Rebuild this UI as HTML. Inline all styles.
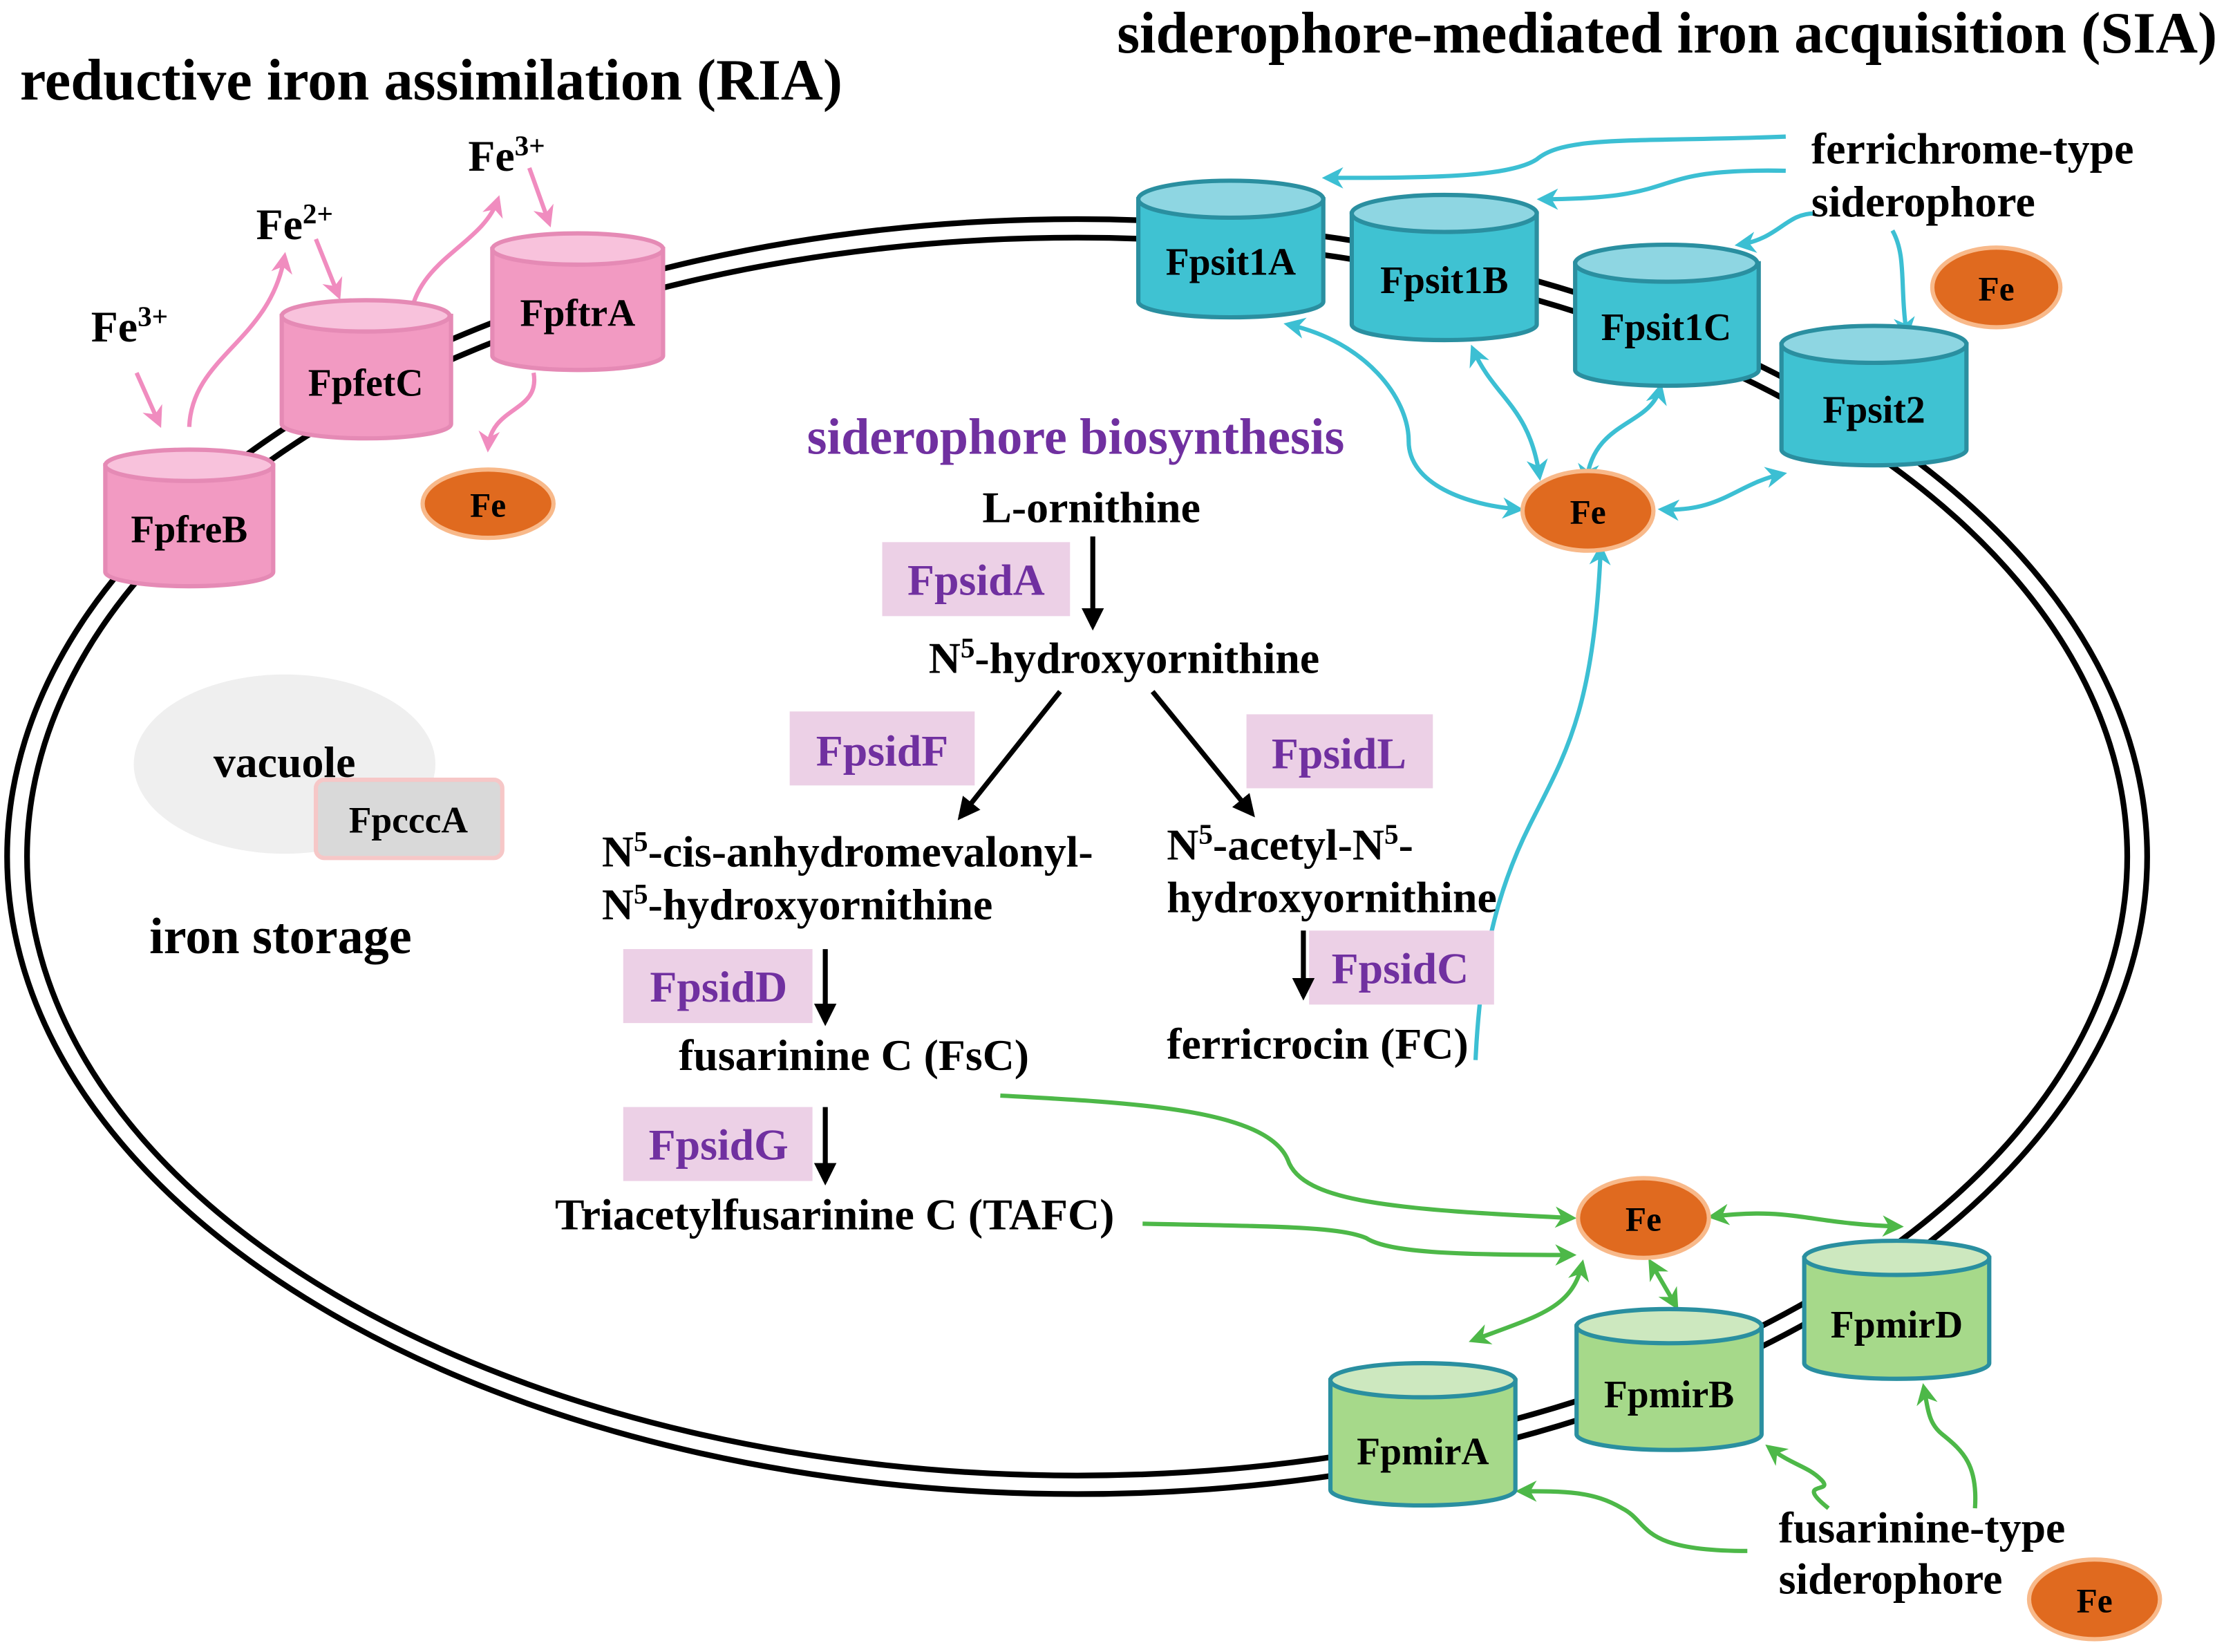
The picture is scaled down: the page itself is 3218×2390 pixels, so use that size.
<!DOCTYPE html>
<html><head><meta charset="utf-8"><style>
html,body{margin:0;padding:0;background:#fff;}
svg{display:block;}
text{font-family:"Liberation Serif",serif;font-weight:bold;}
</style></head><body>
<svg width="3218" height="2390" viewBox="0 0 1563 1161" preserveAspectRatio="none" xmlns="http://www.w3.org/2000/svg">
<defs>
<marker id="ap" viewBox="0 0 10 10" refX="8" refY="5" markerWidth="5" markerHeight="5" orient="auto-start-reverse"><path d="M0,0L10,5L0,10L3,5Z" fill="#f08cbf"/></marker>
<marker id="ac" viewBox="0 0 10 10" refX="8" refY="5" markerWidth="5" markerHeight="5" orient="auto-start-reverse"><path d="M0,0L10,5L0,10L3,5Z" fill="#3cbfd3"/></marker>
<marker id="ag" viewBox="0 0 10 10" refX="8" refY="5" markerWidth="5" markerHeight="5" orient="auto-start-reverse"><path d="M0,0L10,5L0,10L3,5Z" fill="#4db848"/></marker>
<marker id="ab" viewBox="0 0 10 10" refX="8" refY="5" markerWidth="4.5" markerHeight="4.5" orient="auto"><path d="M0,0L10,5L0,10Z" fill="#000"/></marker>
</defs>
<rect width="1563" height="1161" fill="#fff"/>
<ellipse cx="757" cy="602" rx="752" ry="448" fill="none" stroke="#000" stroke-width="4"/>
<ellipse cx="757" cy="602" rx="738" ry="435" fill="none" stroke="#000" stroke-width="4"/>

<text x="14" y="70" font-size="41">reductive iron assimilation (RIA)</text>
<text x="785" y="37" font-size="41">siderophore-mediated iron acquisition (SIA)</text>

<ellipse cx="200" cy="537" rx="106" ry="63" fill="#efefef"/>
<text x="150" y="546" font-size="31">vacuole</text>
<rect x="222" y="548" width="131" height="55" rx="6" fill="#d9d9d9" stroke="#f6c7c7" stroke-width="3"/>
<text x="287" y="585" font-size="26" text-anchor="middle">FpcccA</text>
<text x="105" y="670" font-size="36">iron storage</text>

<g fill="none" stroke="#f08cbf" stroke-width="3">
<path d="M96 262 L112 298" marker-end="url(#ap)"/>
<path d="M133 300 C135 250 190 240 200 180" marker-end="url(#ap)"/>
<path d="M222 168 L238 208" marker-end="url(#ap)"/>
<path d="M290 215 C300 180 340 170 350 140" marker-end="url(#ap)"/>
<path d="M372 118 L386 157" marker-end="url(#ap)"/>
<path d="M375 262 C380 290 345 285 343 315" marker-end="url(#ap)"/>
</g>
<text x="64" y="240" font-size="31">Fe<tspan font-size="20" dy="-11">3+</tspan></text>
<text x="180" y="168" font-size="31">Fe<tspan font-size="20" dy="-11">2+</tspan></text>
<text x="329" y="120" font-size="31">Fe<tspan font-size="20" dy="-11">3+</tspan></text>

<g stroke="#e58ab5" stroke-width="3">
<path d="M74 327 L74 402 A59 10 0 0 0 192 402 L192 327Z" fill="#f29ac2"/>
<ellipse cx="133" cy="327" rx="59" ry="11" fill="#f8c2dc"/>
<path d="M198 222 L198 298 A59 10 0 0 0 317 298 L317 222Z" fill="#f29ac2"/>
<ellipse cx="257" cy="222" rx="59" ry="11" fill="#f8c2dc"/>
<path d="M346 175 L346 250 A60 10 0 0 0 466 250 L466 175Z" fill="#f29ac2"/>
<ellipse cx="406" cy="175" rx="60" ry="11" fill="#f8c2dc"/>
</g>
<text x="133" y="381" font-size="27" text-anchor="middle">FpfreB</text>
<text x="257" y="278" font-size="27" text-anchor="middle">FpfetC</text>
<text x="406" y="229" font-size="27" text-anchor="middle">FpftrA</text>
<ellipse cx="343" cy="354" rx="46" ry="24" fill="#e06a1f" stroke="#f8b98a" stroke-width="3"/>
<text x="343" y="363" font-size="24" text-anchor="middle">Fe</text>

<g fill="none" stroke="#3cbfd3" stroke-width="3">
<path d="M1255 96 C1150 100 1100 95 1080 112 C1060 125 1000 125 932 125" marker-end="url(#ac)"/>
<path d="M1255 120 C1150 118 1190 140 1083 140" marker-end="url(#ac)"/>
<path d="M1275 150 C1255 150 1250 168 1222 172" marker-end="url(#ac)"/>
<path d="M1330 162 C1340 180 1335 200 1340 235" marker-end="url(#ac)"/>
<path d="M905 228 C960 240 990 280 990 310 C990 340 1030 355 1068 358" marker-start="url(#ac)" marker-end="url(#ac)"/>
<path d="M1035 245 C1050 280 1075 285 1082 335" marker-start="url(#ac)" marker-end="url(#ac)"/>
<path d="M1167 272 C1160 300 1120 295 1115 338" marker-start="url(#ac)" marker-end="url(#ac)"/>
<path d="M1253 333 C1220 340 1210 360 1168 358" marker-start="url(#ac)" marker-end="url(#ac)"/>
<path d="M1037 745 C1040 680 1050 630 1075 580 C1100 530 1120 500 1125 385" marker-end="url(#ac)"/>
</g>
<text x="1273" y="115" font-size="31">ferrichrome-type</text>
<text x="1273" y="152" font-size="31">siderophore</text>
<ellipse cx="1403" cy="202" rx="45" ry="28" fill="#e06a1f" stroke="#f8b98a" stroke-width="3"/>
<text x="1403" y="211" font-size="24" text-anchor="middle">Fe</text>

<g stroke="#2a8fa0" stroke-width="3">
<path d="M800 140 L800 212 A65 11 0 0 0 930 212 L930 140Z" fill="#3fc2d2"/>
<ellipse cx="865" cy="140" rx="65" ry="13" fill="#8ed6e2"/>
<path d="M950 150 L950 228 A65 11 0 0 0 1080 228 L1080 150Z" fill="#3fc2d2"/>
<ellipse cx="1015" cy="150" rx="65" ry="13" fill="#8ed6e2"/>
<path d="M1107 185 L1107 260 A64 11 0 0 0 1236 260 L1236 185Z" fill="#3fc2d2"/>
<ellipse cx="1171" cy="185" rx="64" ry="13" fill="#8ed6e2"/>
<path d="M1252 242 L1252 316 A65 11 0 0 0 1382 316 L1382 242Z" fill="#3fc2d2"/>
<ellipse cx="1317" cy="242" rx="65" ry="13" fill="#8ed6e2"/>
</g>
<text x="865" y="193" font-size="27" text-anchor="middle">Fpsit1A</text>
<text x="1015" y="206" font-size="27" text-anchor="middle">Fpsit1B</text>
<text x="1171" y="239" font-size="27" text-anchor="middle">Fpsit1C</text>
<text x="1317" y="297" font-size="27" text-anchor="middle">Fpsit2</text>
<ellipse cx="1116" cy="359" rx="46" ry="28" fill="#e06a1f" stroke="#f8b98a" stroke-width="3"/>
<text x="1116" y="368" font-size="24" text-anchor="middle">Fe</text>

<text x="756" y="319" font-size="36" fill="#7030a0" text-anchor="middle">siderophore biosynthesis</text>
<text x="767" y="367" font-size="31" text-anchor="middle">L-ornithine</text>
<rect x="620" y="381" width="132" height="52" fill="#ecd0e6"/>
<text x="686" y="418" font-size="31" fill="#7030a0" text-anchor="middle">FpsidA</text>
<text x="790" y="473" font-size="31" text-anchor="middle">N<tspan font-size="20" dy="-11">5</tspan><tspan dy="11">-hydroxyornithine</tspan></text>
<rect x="555" y="500" width="130" height="52" fill="#ecd0e6"/>
<text x="620" y="538" font-size="31" fill="#7030a0" text-anchor="middle">FpsidF</text>
<rect x="876" y="502" width="131" height="52" fill="#ecd0e6"/>
<text x="941" y="540" font-size="31" fill="#7030a0" text-anchor="middle">FpsidL</text>
<g stroke="#000" stroke-width="3.5" fill="none">
<path d="M768 377 L768 440" marker-end="url(#ab)"/>
<path d="M745 486 L675 574" marker-end="url(#ab)"/>
<path d="M810 486 L880 572" marker-end="url(#ab)"/>
<path d="M580 667 L580 718" marker-end="url(#ab)"/>
<path d="M580 778 L580 830" marker-end="url(#ab)"/>
</g>
<text x="423" y="609" font-size="31">N<tspan font-size="20" dy="-11">5</tspan><tspan dy="11">-cis-anhydromevalonyl-</tspan></text>
<text x="423" y="646" font-size="31">N<tspan font-size="20" dy="-11">5</tspan><tspan dy="11">-hydroxyornithine</tspan></text>
<text x="820" y="604" font-size="31">N<tspan font-size="20" dy="-11">5</tspan><tspan dy="11">-acetyl-N</tspan><tspan font-size="20" dy="-11">5</tspan><tspan dy="11">-</tspan></text>
<text x="820" y="641" font-size="31">hydroxyornithine</text>
<rect x="920" y="654" width="130" height="52" fill="#ecd0e6"/>
<text x="984" y="691" font-size="31" fill="#7030a0" text-anchor="middle">FpsidC</text>
<path d="M916 654 L916 700" stroke="#000" stroke-width="3.5" marker-end="url(#ab)"/>
<text x="820" y="744" font-size="31">ferricrocin (FC)</text>
<rect x="438" y="667" width="133" height="52" fill="#ecd0e6"/>
<text x="505" y="704" font-size="31" fill="#7030a0" text-anchor="middle">FpsidD</text>
<text x="477" y="752" font-size="31">fusarinine C (FsC)</text>
<rect x="438" y="778" width="133" height="52" fill="#ecd0e6"/>
<text x="505" y="815" font-size="31" fill="#7030a0" text-anchor="middle">FpsidG</text>
<text x="390" y="864" font-size="31">Triacetylfusarinine C (TAFC)</text>

<g fill="none" stroke="#4db848" stroke-width="3">
<path d="M703 770 C800 775 890 780 905 815 C915 845 980 850 1105 856" marker-end="url(#ag)"/>
<path d="M803 860 C900 862 940 862 960 870 C975 880 1020 882 1105 882" marker-end="url(#ag)"/>
<path d="M1203 855 C1260 848 1270 860 1335 862" marker-start="url(#ag)" marker-end="url(#ag)"/>
<path d="M1160 887 L1178 918" marker-start="url(#ag)" marker-end="url(#ag)"/>
<path d="M1112 888 C1105 920 1080 925 1035 942" marker-start="url(#ag)" marker-end="url(#ag)"/>
<path d="M1228 1090 C1150 1090 1160 1070 1140 1060 C1120 1048 1100 1048 1068 1048" marker-end="url(#ag)"/>
<path d="M1285 1060 C1260 1040 1290 1050 1280 1040 C1270 1030 1260 1030 1243 1017" marker-end="url(#ag)"/>
<path d="M1388 1060 C1390 1030 1380 1020 1365 1008 C1355 1000 1355 990 1352 975" marker-end="url(#ag)"/>
</g>
<ellipse cx="1155" cy="856" rx="46" ry="28" fill="#e06a1f" stroke="#f8b98a" stroke-width="3"/>
<text x="1155" y="865" font-size="24" text-anchor="middle">Fe</text>
<g stroke="#2a8fa0" stroke-width="3">
<path d="M935 970 L935 1047 A65 11 0 0 0 1065 1047 L1065 970Z" fill="#a6d98a"/>
<ellipse cx="1000" cy="970" rx="65" ry="12" fill="#cde8bf"/>
<path d="M1108 932 L1108 1008 A65 11 0 0 0 1238 1008 L1238 932Z" fill="#a6d98a"/>
<ellipse cx="1173" cy="932" rx="65" ry="12" fill="#cde8bf"/>
<path d="M1268 884 L1268 958 A65 11 0 0 0 1398 958 L1398 884Z" fill="#a6d98a"/>
<ellipse cx="1333" cy="884" rx="65" ry="12" fill="#cde8bf"/>
</g>
<text x="1000" y="1029" font-size="27" text-anchor="middle">FpmirA</text>
<text x="1173" y="989" font-size="27" text-anchor="middle">FpmirB</text>
<text x="1333" y="940" font-size="27" text-anchor="middle">FpmirD</text>
<text x="1250" y="1084" font-size="31">fusarinine-type</text>
<text x="1250" y="1120" font-size="31">siderophore</text>
<ellipse cx="1472" cy="1124" rx="46" ry="28" fill="#e06a1f" stroke="#f8b98a" stroke-width="3"/>
<text x="1472" y="1133" font-size="24" text-anchor="middle">Fe</text>
</svg>
</body></html>
